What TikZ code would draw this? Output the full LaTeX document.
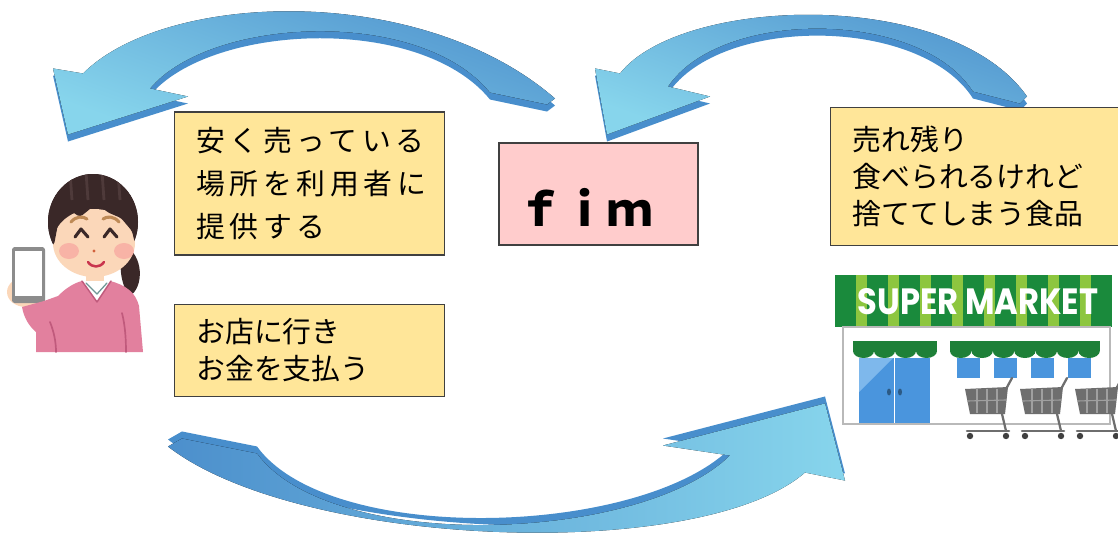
\documentclass[tikz,border=0pt]{standalone}
\usepackage{fontspec}
\usepackage{graphicx}
\usetikzlibrary{positioning}
\newfontfamily\jpfont{Noto Sans CJK JP}
\newfontfamily\jpwide{Noto Sans CJK JP}[LetterSpace=16]
\newfontfamily\signfont{Poppins}
\definecolor{memoyellow}{RGB}{255,230,153}
\definecolor{memopink}{RGB}{255,204,204}
\definecolor{memoedge}{RGB}{64,64,64}
\definecolor{arrowblue}{RGB}{88,152,212}
\definecolor{arrowdeep}{RGB}{76,143,204}
\definecolor{arrowcyan}{RGB}{135,213,236}
\definecolor{arrowside}{RGB}{72,142,204}
\definecolor{skin}{RGB}{251,215,185}
\definecolor{hair}{RGB}{58,40,40}
\definecolor{hairlight}{RGB}{78,58,58}
\definecolor{brow}{RGB}{190,138,86}
\definecolor{blush}{RGB}{248,168,160}
\definecolor{lips}{RGB}{201,54,78}
\definecolor{sweater}{RGB}{226,128,158}
\definecolor{sweaterline}{RGB}{192,90,124}
\definecolor{phonegray}{RGB}{140,140,140}
\definecolor{signdark}{RGB}{26,138,60}
\definecolor{signlight}{RGB}{141,198,63}
\definecolor{awning}{RGB}{30,128,56}
\definecolor{glass}{RGB}{74,149,221}
\definecolor{glasslight}{RGB}{126,184,236}
\definecolor{cartgray}{RGB}{110,110,110}
\definecolor{cartline}{RGB}{160,160,160}
\definecolor{wallline}{RGB}{185,185,185}
\tikzset{
  memo/.style={
    rectangle, draw=memoedge, line width=0.8pt, fill=memoyellow,
    align=left, inner xsep=0.55cm,
    font=\jpfont\fontsize{20.5pt}{26.3pt}\selectfont
  },
  brand/.style={
    rectangle, draw=memoedge, line width=0.8pt, fill=memopink
  },
  arrowface/.style={top color=arrowdeep, middle color=arrowblue,
    bottom color=arrowcyan, shading angle=-20},
  arrowfaceup/.style={left color=arrowdeep, middle color=arrowblue,
    right color=arrowcyan},
  arrowback/.style={fill=arrowside},
  thinline/.style={line cap=round, line join=round}
}
% block arrows, outlines in pixel units
\newcommand{\fimtouser}{(68,138) -- (53,72) -- (83,77)
  .. controls (165,-5) and (420,-15) .. (555,102) -- (547,108) -- (490,96)
  .. controls (420,10) and (210,20) .. (150,92) -- (188,100) -- cycle}
\newcommand{\shoptofim}{(607,138) -- (595,72) -- (620,77)
  .. controls (680,0) and (950,-10) .. (1027,100) -- (1020,107) -- (973,95)
  .. controls (920,12) and (720,12) .. (668,90) -- (710,100) -- cycle}
\newcommand{\usertoshop}{(168,443) -- (182,435) -- (257,450)
  .. controls (330,550) and (640,540) .. (730,452) -- (663,442) -- (825,400)
  -- (845,477) -- (805,469)
  .. controls (700,560) and (300,545) .. cycle}

\begin{document}
\begin{tikzpicture}[x=0.025cm, y=-0.025cm]
  \path[use as bounding box, clip] (0,0) rectangle (1118,533);
  \fill[white] (0,0) rectangle (1118,533);

  % arrows
  \fill[arrowback, yshift=-2.5pt] \fimtouser;
  \fill[arrowface, yshift=2.5pt] \fimtouser;
  \fill[arrowback, yshift=-2.5pt] \shoptofim;
  \fill[arrowface, yshift=2.5pt] \shoptofim;
  \fill[arrowback, yshift=2.5pt] \usertoshop;
  \fill[arrowfaceup, yshift=-2.5pt] \usertoshop;

  % text boxes
  \node[memo, text width=5.65cm, minimum height=3.575cm,
        font=\jpwide\fontsize{20.5pt}{30.6pt}\selectfont] (offer) at (309.5,183.5)
        {安く売っている\\場所を利用者に\\提供する};
  \node[memo, text width=5.65cm, minimum height=2.3cm,
        below=1.2cm of offer.south west, anchor=north west] (visit)
        {お店に行き\\お金を支払う};
  \node[brand, minimum width=4.975cm, minimum height=2.55cm] (fim) at (598.5,194) {};
  \node[font=\jpfont\bfseries\fontsize{32pt}{38pt}\selectfont] (fimname) at (585,207) {ｆｉｍ};
  \node[memo, text width=6.4cm, minimum height=3.45cm, anchor=north west] (waste)
        at (830,107) {売れ残り\\食べられるけれど\\捨ててしまう食品};

  % user with a smartphone
  \fill[hair] (124,245) .. controls (144,255) and (144,287) .. (130,296)
              .. controls (120,285) and (118,262) .. cycle;
  \fill[hair] (93,222) ellipse [x radius=45, y radius=48];
  \fill[skin] (94,243) ellipse [x radius=41, y radius=34];
  \fill[skin] (86,268) rectangle (104,288);
  \begin{scope}
    \clip (93,222) ellipse [x radius=45, y radius=48];
    \fill[hair, rounded corners=2pt] (40,165) -- (40,248) -- (54,245) -- (58,224)
      -- (68,209) -- (80,217) -- (90,209) -- (97,201) -- (107,212) -- (121,218)
      -- (132,231) -- (136,248) -- (145,248) -- (145,165) -- cycle;
    \foreach \hx in {70,86,102,118}
      \draw[hairlight, line width=2pt] (\hx,172) -- (\hx+2,200);
  \end{scope}
  \draw[brow, line width=2.2pt, thinline] (71,222) .. controls (76,216) and (83,216) .. (87,219);
  \draw[brow, line width=2.2pt, thinline] (103,219) .. controls (107,216) and (114,216) .. (119,222);
  \draw[hair, line width=2.2pt, thinline] (75,237) -- (81,229) -- (88,237);
  \draw[hair, line width=2.2pt, thinline] (104,237) -- (110,229) -- (117,237);
  \fill[blush, opacity=0.75] (69,251) ellipse [x radius=10, y radius=8];
  \fill[blush, opacity=0.75] (124,251) ellipse [x radius=10, y radius=8];
  \fill[brow!70!red] (94,251) circle (1.6);
  \draw[lips, line width=1.8pt, thinline] (88,262) .. controls (92,268) and (100,268) .. (104,262);
  \fill[skin] (26,292) ellipse [x radius=19, y radius=15];
  \fill[phonegray, rounded corners=2pt] (12,247) rectangle (45,303);
  \fill[white] (15,251) rectangle (42,296);
  \fill[sweater] (22,307) -- (44,301) -- (58,296) .. controls (66,288) and (74,283) .. (82,281)
    -- (110,281) .. controls (126,285) and (136,293) .. (139,306) -- (143,352) -- (36,352)
    -- (36,332) .. controls (29,326) and (24,318) .. cycle;
  \draw[sweaterline, line width=1.2pt, thinline] (50,322) .. controls (54,332) and (56,342) .. (56,352);
  \draw[sweaterline, line width=1.2pt, thinline] (122,313) .. controls (125,325) and (126,338) .. (126,352);
  \fill[white] (82,281) -- (111,281) -- (97,301) -- cycle;
  \draw[cartline!70!teal, line width=0.9pt, thinline] (86,283) -- (97,294) -- (107,283);
  \draw[sweaterline, line width=1pt, thinline] (82,281) -- (97,302) -- (111,281);

  % supermarket
  \fill[signlight] (835,275) rectangle (1112,327);
  \foreach \sx in {835,867,...,1100}
    \fill[signdark] (\sx,275) rectangle ({min(\sx+21,1112)},327);
  \node[text=white, font=\signfont\bfseries\fontsize{26pt}{26pt}\selectfont] (sign)
        at (978,302) {\scalebox{0.88}[1]{SUPER MARKET}};
  \filldraw[fill=white, draw=wallline, line width=0.8pt] (843,327) rectangle (1110,424);
  \fill[awning] (853,341) rectangle (937,351);
  \foreach \ax in {0,...,3}
    \fill[awning] (863.5+21*\ax,351) ellipse [x radius=10.5, y radius=7];
  \fill[awning] (950,341) rectangle (1100,351);
  \foreach \ax in {0,...,6}
    \fill[awning] (960.7+21.4*\ax,351) ellipse [x radius=10.7, y radius=7];
  \fill[glass] (859,358) rectangle (930,423);
  \fill[glasslight] (859,358) -- (893,358) -- (859,392) -- cycle;
  \draw[white, line width=1pt] (894.5,358) -- (894.5,423);
  \fill[glass!60!black] (889,392) ellipse [x radius=2, y radius=3.5];
  \fill[glass!60!black] (900,392) ellipse [x radius=2, y radius=3.5];
  \foreach \wx in {957,994,1031,1068}
    \fill[glass] (\wx,358) rectangle (\wx+23,378);
  \foreach \cx in {965,1020,1075} {
    \fill[cartgray] (\cx,389) -- (\cx+43,387) -- (\cx+40,414) -- (\cx+5,414) -- cycle;
    \draw[cartline, line width=0.8pt] (\cx+2,401) -- (\cx+41,400);
    \foreach \gx in {12,22,32}
      \draw[cartline, line width=0.8pt] (\cx+\gx,389) -- (\cx+\gx,413);
    \draw[cartgray, line width=1.6pt, thinline] (\cx+41,389) -- (\cx+47,378);
    \draw[cartgray, line width=1.6pt, thinline] (\cx+37,414) -- (\cx+41,431);
    \draw[cartgray, line width=1.8pt, thinline] (\cx+2,431) -- (\cx+44,431);
    \fill[black!75] (\cx+5,436) circle (3.2);
    \fill[black!75] (\cx+41,436) circle (3.2);
  }
\end{tikzpicture}
\end{document}
